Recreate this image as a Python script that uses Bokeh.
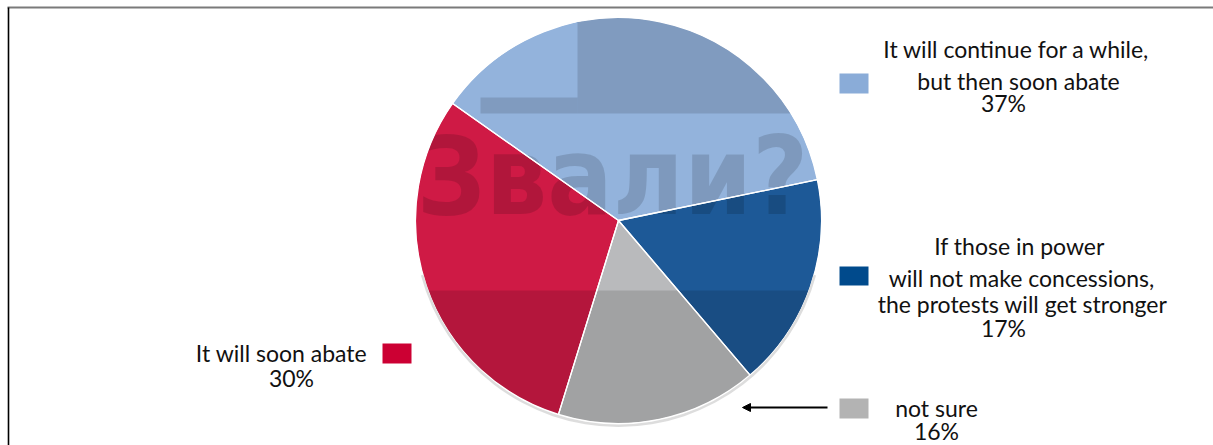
import numpy as np
from bokeh.plotting import figure
from bokeh.models import Range1d, Arrow, NormalHead
from bokeh.core.properties import value
from bokeh.embed import file_html
from bokeh.resources import INLINE

# ---------------- data ----------------
categories = [
    "It will continue for a while, but then soon abate",
    "It will soon abate",
    "not sure",
    "If those in power will not make concessions, the protests will get stronger",
]
shares = [37, 30, 16, 17]           # percent, anticlockwise order
pct_labels = ["37%", "30%", "16%", "17%"]
label_lines = [
    ["It will continue for a while,", "but then soon abate"],
    ["It will soon abate"],
    ["not sure"],
    ["If those in power", "will not make concessions,", "the protests will get stronger"],
]
slice_colors = ["#93B3DC", "#CF1A45", "#B9BABC", "#1D5997"]
legend_colors = ["#8AACD8", "#CC0033", "#B3B3B3", "#004A8C"]
watermark = "Звали?"

# ---------------- layout ----------------
W, H = 1213, 445
def X(xw):  # window x -> data x
    return xw
def Y(yw):  # window y -> data y
    return H - yw

cx, cy, R = X(618), Y(220), 203
start_deg = 11.6
FONT = value("Lato")
FS = "23px"

p = figure(width=W, height=H, x_range=Range1d(0, W), y_range=Range1d(0, H),
           output_backend="svg", toolbar_location=None, min_border=0,
           x_axis_location=None, y_axis_location=None)
p.grid.visible = False
p.outline_line_color = None
p.background_fill_color = "white"

# pie
fr = np.array(shares) / sum(shares)
ends = np.radians(start_deg) + 2 * np.pi * np.cumsum(fr)
starts = ends - 2 * np.pi * fr
p.wedge(x=cx, y=cy, radius=R, start_angle=starts, end_angle=ends,
        fill_color=slice_colors, line_color=None)

# watermark-like shading (photo behind the chart)
p.quad(left=cx - R - 10, right=cx + R + 10, bottom=cy - R - 10, top=Y(290),
       fill_color="black", fill_alpha=0.13, line_color=None)
p.quad(left=X(577), right=cx + R + 10, bottom=Y(113), top=cy + R + 10,
       fill_color="black", fill_alpha=0.13, line_color=None)
p.quad(left=X(480), right=X(577), bottom=Y(113), top=Y(97),
       fill_color="black", fill_alpha=0.13, line_color=None)
p.text(x=[X(612)], y=[Y(176)], text=[watermark],
       text_font=value("DejaVu Sans Condensed"), text_font_style="bold",
       text_font_size="108px", text_align="center", text_baseline="middle",
       text_color="black", text_alpha=0.14)

# slice separators
p.wedge(x=cx, y=cy, radius=R, start_angle=starts, end_angle=ends,
        fill_alpha=0, line_color="white", line_width=1.3)

# mask outside the pie
p.annulus(x=cx, y=cy, inner_radius=R, outer_radius=R + 110,
          fill_color="white", line_color=None)
# soft shadow at the lower rim
p.annular_wedge(x=cx, y=cy - 2, inner_radius=R - 1, outer_radius=R + 1.5,
                start_angle=np.radians(195), end_angle=np.radians(345),
                fill_color="#CFCFCF", fill_alpha=0.7, line_color=None)

# frame lines
p.segment(x0=[X(7)], y0=[Y(7)], x1=[X(W)], y1=[Y(7)], line_color="#7A7A7A", line_width=2)
p.segment(x0=[X(8)], y0=[Y(7)], x1=[X(8)], y1=[Y(H)], line_color="black", line_width=1.6)

# legend squares
sq = [  # window coords: left, top, right, bottom
    (839, 73, 868, 93),
    (382, 343, 411, 363),
    (839, 398, 868, 418),
    (839, 266, 868, 285),
]
p.quad(left=[X(s[0]) for s in sq], right=[X(s[2]) for s in sq],
       top=[Y(s[1]) for s in sq], bottom=[Y(s[3]) for s in sq],
       fill_color=legend_colors, line_color=None)

# legend texts (window coords of line centres)
text_pos = [
    [(1016, 48), (1018, 80)],
    [(281, 352)],
    [(936, 407)],
    [(1019, 245), (1021, 277), (1022, 303)],
]
pct_pos = [(1003, 102), (291, 377), (936, 430), (1003, 327)]
tx, ty, tt = [], [], []
for lines, poss, pl, pp in zip(label_lines, text_pos, pct_labels, pct_pos):
    for ln, (xw, yw) in zip(lines, poss):
        tx.append(X(xw)); ty.append(Y(yw)); tt.append(ln)
    tx.append(X(pp[0])); ty.append(Y(pp[1])); tt.append(pl)
p.text(x=tx, y=ty, text=tt, text_font=FONT, text_font_size=FS,
       text_align="center", text_baseline="middle", text_color="#111111")

# arrow pointing to the "not sure" slice
p.add_layout(Arrow(x_start=X(827), y_start=Y(407), x_end=X(742), y_end=Y(407),
                   line_width=2, line_color="black",
                   end=NormalHead(size=8, fill_color="black", line_color="black")))

open("out.html", "w").write(file_html(p, INLINE))
